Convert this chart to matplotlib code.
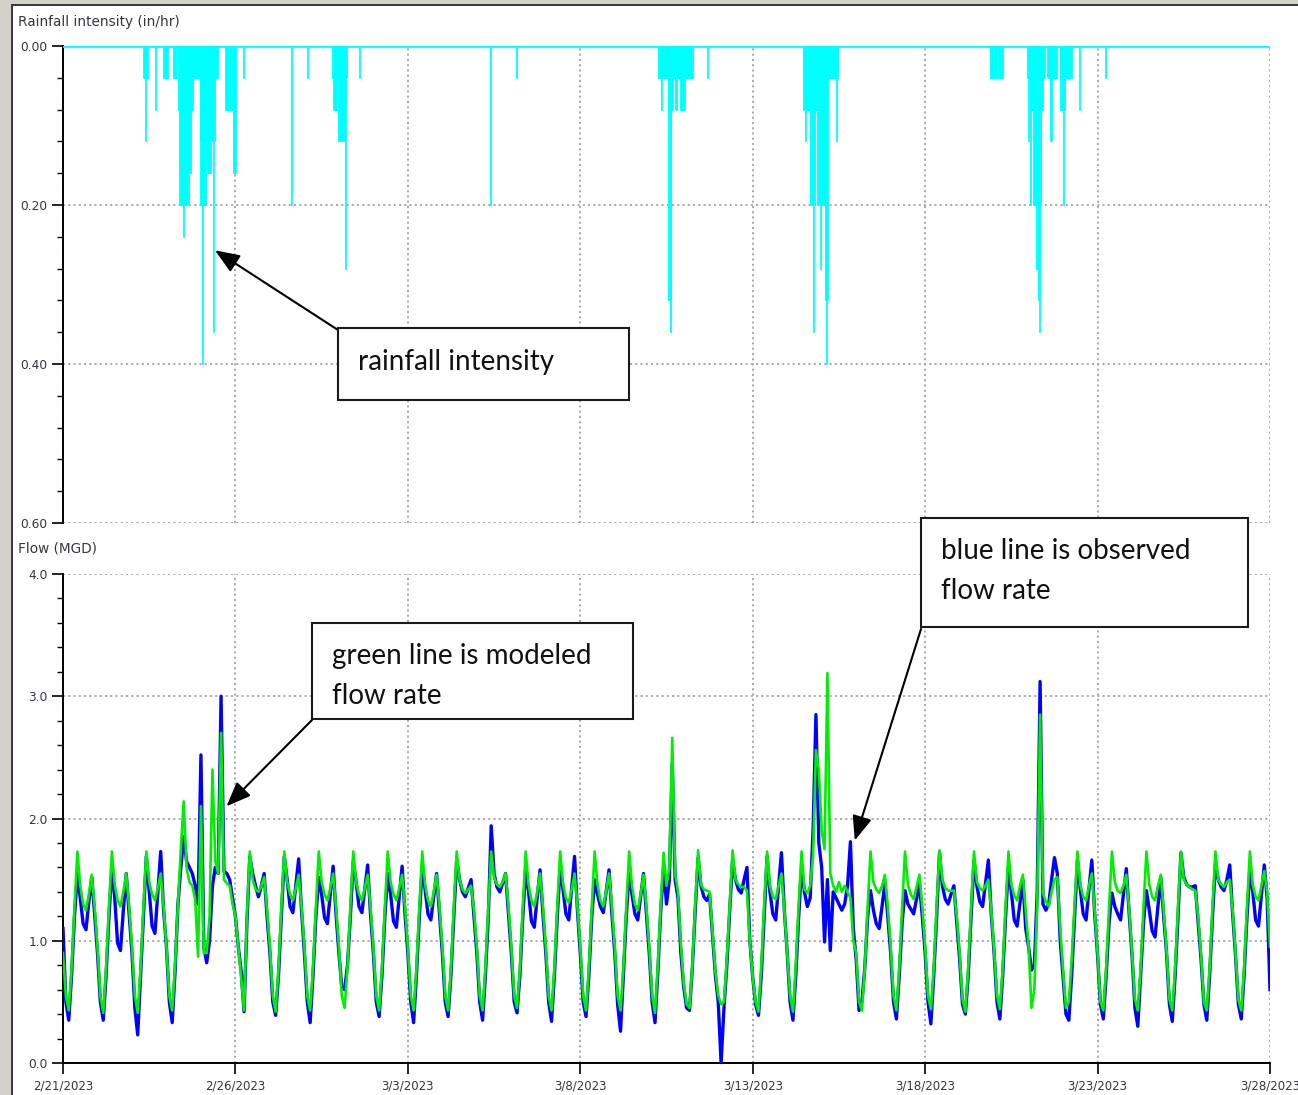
import matplotlib
matplotlib.use('Agg')
import matplotlib.pyplot as plt
import matplotlib.dates as mdates
from matplotlib.patches import Rectangle
from matplotlib.ticker import MultipleLocator, FixedLocator
import numpy as np
import pandas as pd

W, H = 1298, 1095
START = pd.Timestamp('2023-02-21')
END = pd.Timestamp('2023-03-28')

# rainfall (in/hr): bar start (hours after 2/21 00:00), duration (hours), intensity
rain_start_hr = [55.7, 57.1, 64.0, 69.6, 76.6, 80.0, 80.7, 80.7, 83.5, 90.5,
                 95.4, 95.4, 96.7, 100.2, 104.4, 105.8, 112.8, 118.3, 125.3,
                 158.7, 169.8, 187.2, 187.9, 191.4, 196.3, 206.0, 297.2, 315.3,
                 414.1, 416.2, 421.1, 421.1, 422.5, 425.9, 429.4, 448.2,
                 515.0, 515.0, 516.4, 519.9, 522.0, 523.4, 524.7, 526.8, 530.3,
                 531.0, 538.0,
                 645.2, 650.8, 670.9, 673.0, 671.6, 673.0, 675.1, 677.2, 678.6,
                 679.3, 684.9, 687.0, 693.9, 693.9, 696.0, 707.1, 725.2]
rain_dur_hr = [3.5, 0.7, 0.7, 3.5, 2.8, 10.4, 8.4, 7.0, 0.7, 4.9,
               10.4, 4.2, 0.7, 2.8, 0.7, 2.1, 7.7, 2.1, 0.7,
               0.7, 0.7, 10.4, 2.8, 4.9, 0.7, 0.7, 0.7, 0.7,
               24.4, 0.7, 3.5, 2.1, 0.7, 1.4, 3.5, 0.7,
               24.4, 4.9, 0.7, 3.5, 0.7, 9.0, 7.0, 0.7, 2.1,
               0.7, 0.7,
               4.9, 3.5, 12.5, 9.0, 0.7, 0.7, 5.6, 2.8, 0.7,
               0.7, 7.0, 1.4, 8.4, 3.5, 0.7, 0.7, 0.7]
rain_in = [0.04, 0.12, 0.08, 0.04, 0.04, 0.08, 0.16, 0.20, 0.24, 0.04,
           0.12, 0.20, 0.40, 0.16, 0.36, 0.04, 0.08, 0.16, 0.04,
           0.20, 0.04, 0.04, 0.08, 0.12, 0.28, 0.04, 0.20, 0.04,
           0.04, 0.08, 0.08, 0.32, 0.36, 0.08, 0.08, 0.04,
           0.04, 0.08, 0.12, 0.20, 0.36, 0.08, 0.20, 0.28, 0.32,
           0.40, 0.12,
           0.04, 0.04, 0.04, 0.08, 0.12, 0.20, 0.20, 0.28, 0.32,
           0.36, 0.04, 0.12, 0.04, 0.08, 0.20, 0.08, 0.04]

# flow (MGD), one row per day, values every 2 hours (00, 02, ... 22)
modeled_mgd = [
    [0.90, 0.55, 0.43, 0.78, 1.28, 1.73, 1.45, 1.30, 1.25, 1.38, 1.54, 1.28],
    [0.95, 0.55, 0.41, 0.78, 1.28, 1.73, 1.46, 1.33, 1.28, 1.40, 1.55, 1.28],
    [0.95, 0.55, 0.41, 0.78, 1.28, 1.73, 1.48, 1.38, 1.33, 1.43, 1.55, 1.28],
    [0.95, 0.55, 0.43, 0.80, 1.30, 1.75, 2.14, 1.60, 1.48, 1.45, 1.34, 0.87],
    [2.10, 0.90, 0.90, 1.20, 2.40, 1.65, 1.55, 2.70, 1.50, 1.47, 1.45, 1.30],
    [1.20, 0.95, 0.70, 0.43, 1.20, 1.73, 1.50, 1.42, 1.40, 1.45, 1.52, 1.25],
    [0.95, 0.55, 0.42, 0.78, 1.28, 1.73, 1.48, 1.38, 1.33, 1.43, 1.54, 1.28],
    [0.95, 0.55, 0.43, 0.78, 1.28, 1.73, 1.48, 1.38, 1.33, 1.43, 1.55, 1.28],
    [0.95, 0.55, 0.45, 0.78, 1.28, 1.73, 1.48, 1.38, 1.33, 1.43, 1.54, 1.28],
    [0.95, 0.55, 0.43, 0.78, 1.28, 1.73, 1.48, 1.38, 1.33, 1.43, 1.54, 1.28],
    [0.95, 0.55, 0.43, 0.78, 1.28, 1.73, 1.46, 1.33, 1.28, 1.40, 1.54, 1.28],
    [0.95, 0.55, 0.43, 0.78, 1.28, 1.73, 1.50, 1.42, 1.39, 1.42, 1.45, 1.25],
    [0.95, 0.55, 0.43, 0.78, 1.28, 1.73, 1.52, 1.46, 1.44, 1.48, 1.55, 1.28],
    [0.95, 0.55, 0.45, 0.78, 1.28, 1.73, 1.46, 1.33, 1.28, 1.40, 1.55, 1.28],
    [0.95, 0.55, 0.43, 0.78, 1.28, 1.73, 1.47, 1.35, 1.31, 1.42, 1.55, 1.28],
    [0.95, 0.55, 0.43, 0.78, 1.28, 1.73, 1.46, 1.33, 1.28, 1.40, 1.55, 1.28],
    [0.95, 0.55, 0.43, 0.78, 1.28, 1.73, 1.45, 1.30, 1.25, 1.38, 1.54, 1.28],
    [0.95, 0.55, 0.41, 0.80, 1.30, 1.72, 1.45, 1.60, 2.66, 1.55, 1.40, 0.97],
    [0.65, 0.48, 0.45, 0.80, 1.30, 1.74, 1.46, 1.42, 1.41, 1.40, 1.07, 0.75],
    [0.55, 0.48, 0.50, 0.85, 1.30, 1.74, 1.50, 1.46, 1.44, 1.44, 1.41, 1.00],
    [0.70, 0.50, 0.42, 0.80, 1.30, 1.73, 1.45, 1.36, 1.34, 1.45, 1.55, 1.25],
    [0.90, 0.55, 0.42, 0.80, 1.30, 1.73, 1.42, 1.39, 1.45, 1.70, 2.56, 2.40],
    [1.90, 1.75, 3.19, 1.55, 1.45, 1.40, 1.48, 1.40, 1.45, 1.40, 1.35, 1.00],
    [0.90, 0.50, 0.43, 0.78, 1.28, 1.73, 1.48, 1.42, 1.39, 1.45, 1.54, 1.28],
    [0.95, 0.55, 0.43, 0.78, 1.28, 1.73, 1.46, 1.38, 1.34, 1.44, 1.54, 1.28],
    [0.95, 0.55, 0.44, 0.78, 1.28, 1.74, 1.50, 1.43, 1.41, 1.41, 1.41, 1.20],
    [0.90, 0.52, 0.42, 0.78, 1.28, 1.73, 1.48, 1.43, 1.41, 1.45, 1.50, 1.25],
    [0.92, 0.55, 0.44, 0.78, 1.28, 1.73, 1.46, 1.37, 1.33, 1.45, 1.54, 1.25],
    [0.95, 0.45, 0.60, 1.30, 2.85, 1.39, 1.32, 1.28, 1.40, 1.50, 1.52, 1.10],
    [0.75, 0.45, 0.50, 0.85, 1.30, 1.73, 1.46, 1.36, 1.33, 1.45, 1.55, 1.25],
    [0.90, 0.50, 0.43, 0.78, 1.28, 1.73, 1.48, 1.41, 1.39, 1.45, 1.54, 1.25],
    [0.90, 0.52, 0.43, 0.78, 1.28, 1.73, 1.46, 1.36, 1.33, 1.45, 1.54, 1.25],
    [0.92, 0.52, 0.43, 0.78, 1.28, 1.73, 1.50, 1.46, 1.44, 1.42, 1.41, 1.20],
    [0.88, 0.50, 0.43, 0.78, 1.28, 1.73, 1.50, 1.46, 1.44, 1.48, 1.50, 1.25],
    [0.90, 0.52, 0.43, 0.78, 1.28, 1.73, 1.46, 1.36, 1.33, 1.45, 1.57, 1.40],
]
modeled_last = 0.95

observed_mgd = [
    [1.10, 0.50, 0.35, 0.72, 1.20, 1.55, 1.35, 1.14, 1.09, 1.32, 1.52, 1.22],
    [0.90, 0.50, 0.35, 0.72, 1.20, 1.60, 1.35, 0.98, 0.92, 1.25, 1.55, 1.22],
    [0.90, 0.45, 0.23, 0.72, 1.20, 1.69, 1.40, 1.12, 1.06, 1.40, 1.73, 1.25],
    [0.95, 0.50, 0.33, 0.75, 1.30, 1.60, 1.85, 1.65, 1.60, 1.55, 1.45, 1.30],
    [2.52, 0.95, 0.82, 1.00, 1.45, 1.60, 1.55, 3.00, 1.57, 1.55, 1.50, 1.35],
    [1.20, 0.95, 0.75, 0.42, 1.15, 1.69, 1.55, 1.45, 1.36, 1.45, 1.55, 1.20],
    [0.90, 0.50, 0.39, 0.72, 1.20, 1.69, 1.50, 1.28, 1.23, 1.45, 1.67, 1.25],
    [0.90, 0.50, 0.33, 0.72, 1.20, 1.52, 1.38, 1.19, 1.14, 1.38, 1.61, 1.22],
    [0.90, 0.62, 0.60, 0.80, 1.20, 1.65, 1.48, 1.28, 1.23, 1.42, 1.62, 1.22],
    [0.90, 0.50, 0.38, 0.72, 1.20, 1.55, 1.38, 1.16, 1.11, 1.36, 1.61, 1.22],
    [0.90, 0.50, 0.33, 0.72, 1.20, 1.61, 1.42, 1.22, 1.17, 1.36, 1.55, 1.22],
    [0.90, 0.50, 0.38, 0.72, 1.20, 1.66, 1.50, 1.40, 1.36, 1.43, 1.50, 1.20],
    [0.90, 0.50, 0.35, 0.72, 1.20, 1.94, 1.55, 1.44, 1.40, 1.47, 1.55, 1.22],
    [0.90, 0.50, 0.41, 0.72, 1.20, 1.58, 1.40, 1.16, 1.11, 1.35, 1.58, 1.22],
    [0.90, 0.50, 0.34, 0.72, 1.20, 1.61, 1.42, 1.22, 1.17, 1.43, 1.69, 1.25],
    [0.90, 0.50, 0.38, 0.72, 1.20, 1.50, 1.38, 1.28, 1.23, 1.40, 1.58, 1.22],
    [0.90, 0.48, 0.26, 0.72, 1.20, 1.55, 1.38, 1.22, 1.17, 1.36, 1.55, 1.22],
    [0.90, 0.50, 0.33, 0.75, 1.25, 1.60, 1.30, 1.50, 2.45, 1.50, 1.35, 0.90],
    [0.62, 0.45, 0.43, 0.78, 1.25, 1.68, 1.45, 1.36, 1.33, 1.38, 1.05, 0.72],
    [0.50, 0.00, 0.45, 0.80, 1.25, 1.66, 1.50, 1.42, 1.39, 1.50, 1.60, 1.00],
    [0.70, 0.48, 0.39, 0.72, 1.20, 1.69, 1.40, 1.22, 1.17, 1.45, 1.72, 1.25],
    [0.90, 0.50, 0.35, 0.72, 1.20, 1.60, 1.40, 1.28, 1.35, 1.90, 2.85, 1.80],
    [1.60, 0.99, 1.50, 0.92, 1.40, 1.35, 1.30, 1.25, 1.30, 1.45, 1.81, 1.10],
    [0.85, 0.43, 0.50, 0.78, 1.20, 1.41, 1.25, 1.14, 1.10, 1.28, 1.47, 1.20],
    [0.90, 0.50, 0.36, 0.72, 1.15, 1.41, 1.30, 1.26, 1.22, 1.34, 1.47, 1.20],
    [0.90, 0.50, 0.32, 0.72, 1.20, 1.72, 1.45, 1.34, 1.30, 1.38, 1.45, 1.15],
    [0.85, 0.48, 0.40, 0.72, 1.20, 1.66, 1.45, 1.32, 1.28, 1.47, 1.66, 1.22],
    [0.90, 0.50, 0.36, 0.72, 1.20, 1.61, 1.40, 1.17, 1.12, 1.31, 1.50, 1.10],
    [0.95, 0.76, 0.80, 1.40, 3.12, 1.30, 1.25, 1.30, 1.50, 1.68, 1.55, 1.00],
    [0.70, 0.40, 0.35, 0.72, 1.20, 1.66, 1.42, 1.22, 1.17, 1.42, 1.66, 1.22],
    [0.88, 0.48, 0.36, 0.72, 1.15, 1.39, 1.28, 1.22, 1.17, 1.38, 1.59, 1.22],
    [0.88, 0.45, 0.30, 0.72, 1.15, 1.41, 1.25, 1.08, 1.03, 1.28, 1.52, 1.20],
    [0.90, 0.48, 0.34, 0.72, 1.20, 1.72, 1.52, 1.46, 1.44, 1.44, 1.45, 1.15],
    [0.85, 0.48, 0.35, 0.72, 1.20, 1.63, 1.50, 1.44, 1.41, 1.50, 1.62, 1.22],
    [0.88, 0.48, 0.36, 0.72, 1.20, 1.58, 1.40, 1.17, 1.12, 1.37, 1.62, 1.35],
]
observed_last = 0.60

tick_dates = pd.date_range(START, END, freq='5D')

CYAN = '#00ffff'
GRID = dict(color='#a6a6a6', linestyle=(0, (1.1, 1.7)), linewidth=1.35)
SMALL = dict(family='DejaVu Sans', size=8.8, color='#35353f')
NOTE_FONT = dict(family=['Lato', 'DejaVu Sans'], size=20, color='#111111')


def fx(px):
    return px / W


def fy(py):
    return 1 - py / H


flow_time = pd.date_range(START, periods=len(modeled_mgd) * 12 + 1, freq='2h').to_numpy()
modeled = np.append(np.ravel(modeled_mgd), modeled_last)
observed = np.append(np.ravel(observed_mgd), observed_last)

fig = plt.figure(figsize=(W / 100, H / 100), dpi=100)

# window frame of the screenshot
fig.add_artist(Rectangle((0, 0), fx(11), 1, transform=fig.transFigure,
                         facecolor='#d4d1cb', edgecolor='none'))
fig.add_artist(Rectangle((fx(11), 0), fx(2), 1, transform=fig.transFigure,
                         facecolor='#3c3c3c', edgecolor='none'))
fig.add_artist(Rectangle((0, fy(4)), 1, 4 / H, transform=fig.transFigure,
                         facecolor='#d4d1cb', edgecolor='none'))
fig.add_artist(Rectangle((fx(11), fy(6)), 1, 2 / H, transform=fig.transFigure,
                         facecolor='#3c3c3c', edgecolor='none'))

ax1 = fig.add_axes([fx(63), fy(523), fx(1207), 477 / H])
ax2 = fig.add_axes([fx(63), fy(1063), fx(1207), 489 / H])

# ---- rainfall
rain_x = mdates.date2num(START + pd.to_timedelta(rain_start_hr, unit='h'))
ax1.bar(rain_x, rain_in, width=np.array(rain_dur_hr) / 24, align='edge',
        color=CYAN, edgecolor=CYAN, linewidth=0.6, zorder=3)
ax1.axhline(0, color=CYAN, linewidth=2, zorder=4)
ax1.set_ylim(0.6, 0)
ax1.yaxis.set_major_locator(FixedLocator([0, 0.2, 0.4, 0.6]))
ax1.yaxis.set_minor_locator(MultipleLocator(0.04))
ax1.set_yticklabels(['0.00', '0.20', '0.40', '0.60'])

# ---- flow
ax2.plot(flow_time, observed, color='#0000ff', linewidth=2.4, zorder=3)
ax2.plot(flow_time, modeled, color='#00ee00', linewidth=1.9, zorder=4)
ax2.set_ylim(0, 4)
ax2.yaxis.set_major_locator(FixedLocator([0, 1, 2, 3, 4]))
ax2.yaxis.set_minor_locator(MultipleLocator(0.2))
ax2.set_yticklabels(['0.0', '1.0', '2.0', '3.0', '4.0'])

for ax in (ax1, ax2):
    ax.set_xlim(START, END)
    ax.set_xticks(tick_dates)
    ax.grid(True, which='major', zorder=0, **GRID)
    ax.set_axisbelow(True)
    for side in ('top', 'right', 'bottom'):
        ax.spines[side].set_visible(False)
    ax.spines['left'].set_linewidth(1.4)
    ax.tick_params(axis='y', which='major', length=8, width=1.2, pad=3,
                   labelsize=SMALL['size'], labelcolor=SMALL['color'])
    ax.tick_params(axis='y', which='minor', length=4, width=1.0)
    for lab in ax.get_yticklabels():
        lab.set_family(SMALL['family'])

ax1.tick_params(axis='x', length=0, labelbottom=False)
ax2.spines['bottom'].set_visible(True)
ax2.spines['bottom'].set_linewidth(1.4)
ax2.set_xticklabels([f'{d.month}/{d.day}/{d.year}' for d in tick_dates],
                    family=SMALL['family'])
ax2.tick_params(axis='x', length=8, width=1.2, pad=4,
                labelsize=8.5, labelcolor=SMALL['color'])

fig.text(fx(18), fy(22), 'Rainfall intensity (in/hr)', va='center', ha='left',
         family='DejaVu Sans', size=9.8, color=SMALL['color'])
fig.text(fx(18), fy(549), 'Flow (MGD)', va='center', ha='left',
         family='DejaVu Sans', size=9.8, color=SMALL['color'])

# ---- callouts: text, box (px), text centre y (px), arrow tail (px), arrow head (data)
arrow = dict(arrowstyle='-|>,head_length=0.75,head_width=0.3', color='black',
             linewidth=1.5, mutation_scale=20, shrinkA=0, shrinkB=0)

notes = [
    (ax1, 'rainfall intensity', (338, 328, 629, 400), 362, (338, 330),
     (START + pd.Timedelta(hours=105.8), 0.257)),
    (ax2, 'green line is modeled\nflow rate', (312, 623, 633, 719), 676, (312, 720),
     (START + pd.Timedelta(hours=113.8), 2.10)),
    (ax2, 'blue line is observed\nflow rate', (921, 518, 1248, 627), 571, (921, 629),
     (START + pd.Timedelta(hours=551.0), 1.82)),
]
for ax, text, (x0, y0, x1, y1), ty, tail, head in notes:
    fig.add_artist(Rectangle((fx(x0), fy(y1)), fx(x1 - x0), (y1 - y0) / H,
                             transform=fig.transFigure, facecolor='white',
                             edgecolor='#1a1a1a', linewidth=1.5, zorder=10))
    fig.text(fx(x0 + 20), fy(ty), text, ha='left', va='center',
             linespacing=1.65, zorder=11, **NOTE_FONT)
    ax.annotate('', xy=(mdates.date2num(head[0]), head[1]), xycoords='data',
                xytext=(fx(tail[0]), fy(tail[1])), textcoords='figure fraction',
                arrowprops=arrow, annotation_clip=False, zorder=9)

fig.savefig('out.png', dpi=100)
